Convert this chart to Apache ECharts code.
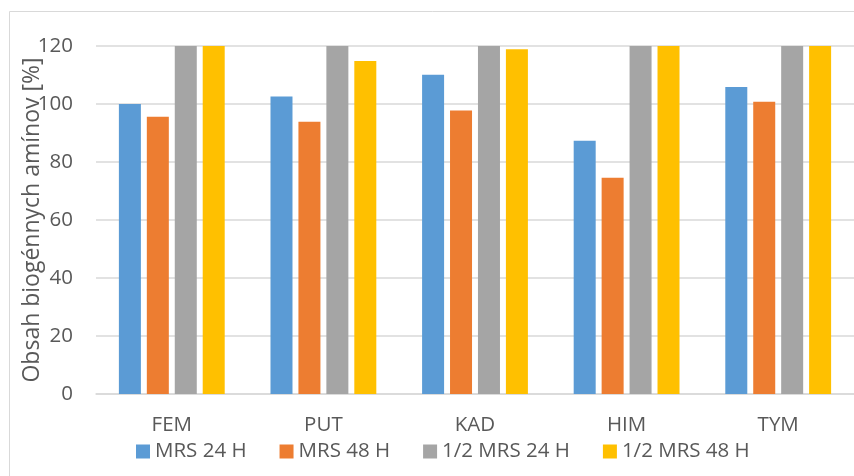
<!DOCTYPE html>
<html>
<head>
<meta charset="utf-8">
<script src="https://cdn.jsdelivr.net/npm/echarts@6/dist/echarts.min.js"></script>
<style>
  html, body { margin: 0; padding: 0; background: #fff; }
  #chart { width: 854px; height: 476px; }
</style>
</head>
<body>
<div id="chart"></div>
<script>
// Biogenic amine content per amine and cultivation medium
const categories = ['FEM', 'PUT', 'KAD', 'HIM', 'TYM'];
const seriesNames = ['MRS 24 H', 'MRS 48 H', '1/2 MRS 24 H', '1/2 MRS 48 H'];
const mrs24 = [100, 102.6, 110.1, 87.3, 105.9];
const mrs48 = [95.6, 93.9, 97.8, 74.6, 100.8];
const halfMrs24 = [120, 120, 120, 120, 120];
const halfMrs48 = [120, 114.8, 118.9, 120, 120];
const yTicks = { min: 0, max: 120, interval: 20 };

const colors = ['#5B9BD5', '#ED7D31', '#A5A5A5', '#FFC000'];
const values = [mrs24, mrs48, halfMrs24, halfMrs48];
const textColor = '#595959';
const fontFamily = '"Open Sans", "Noto Sans", sans-serif';

const chart = echarts.init(document.getElementById('chart'), null, { renderer: 'canvas' });

chart.setOption({
  animation: false,
  textStyle: { fontFamily: fontFamily },
  graphic: [{
    type: 'rect',
    silent: true,
    shape: { x: 9.5, y: 11.5, width: 900, height: 500 },
    style: { fill: 'none', stroke: '#d9d9d9', lineWidth: 1 }
  }],
  grid: { left: 96, top: 46, width: 763, height: 348, containLabel: false },
  legend: {
    data: seriesNames,
    left: 131,
    top: 436,
    icon: 'rect',
    itemWidth: 14,
    itemHeight: 14,
    itemGap: 33,
    textStyle: { color: textColor, fontSize: 20.5, fontFamily: fontFamily }
  },
  xAxis: {
    type: 'category',
    data: categories,
    axisLine: { show: true, lineStyle: { color: '#d9d9d9', width: 1.5 } },
    axisTick: { show: false },
    axisLabel: { color: textColor, fontSize: 20.5, margin: 21, fontFamily: fontFamily }
  },
  yAxis: {
    type: 'value',
    min: yTicks.min,
    max: yTicks.max,
    interval: yTicks.interval,
    name: 'Obsah biogénnych amínov [%]',
    nameLocation: 'middle',
    nameGap: 52,
    nameMoveOverlap: false,
    nameTextStyle: { color: textColor, fontSize: 23, fontFamily: fontFamily },
    axisLine: { show: false },
    axisTick: { show: false },
    axisLabel: { color: textColor, fontSize: 20.5, margin: 23, fontFamily: fontFamily },
    splitLine: { lineStyle: { color: '#d9d9d9', width: 1.5 } }
  },
  series: seriesNames.map((name, i) => ({
    name: name,
    type: 'bar',
    data: values[i],
    barWidth: 22,
    barGap: '27%',
    itemStyle: { color: colors[i] }
  }))
});
</script>
</body>
</html>
